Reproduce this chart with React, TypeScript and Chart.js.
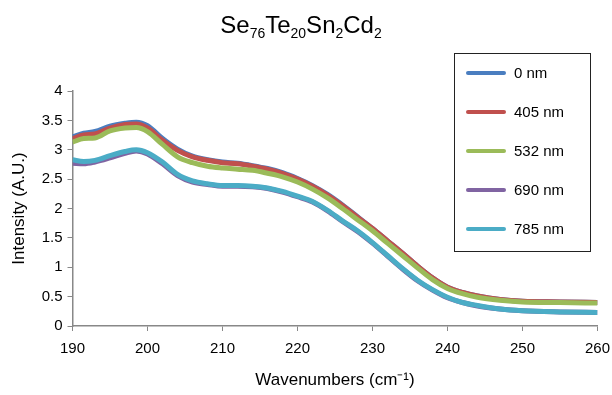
import React, { useEffect, useRef } from "react";
import { Chart, registerables } from "chart.js";

Chart.register(...registerables);

const WAVENUMBERS = [190, 191.5, 193, 195, 197, 198.5, 200, 202, 204, 206, 208, 210, 212, 214, 216, 218, 220, 222, 224, 226, 228, 230, 232, 234, 236, 238, 240, 242, 244, 247, 250, 255, 260];

const INT_0NM = [3.22, 3.28, 3.31, 3.40, 3.45, 3.47, 3.41, 3.19, 3.01, 2.89, 2.83, 2.79, 2.77, 2.73, 2.68, 2.61, 2.51, 2.39, 2.24, 2.06, 1.86, 1.66, 1.45, 1.24, 1.02, 0.82, 0.66, 0.57, 0.51, 0.45, 0.42, 0.41, 0.40];
const INT_405NM = [3.19, 3.25, 3.27, 3.37, 3.43, 3.44, 3.37, 3.16, 2.99, 2.88, 2.82, 2.78, 2.76, 2.72, 2.67, 2.60, 2.50, 2.38, 2.23, 2.05, 1.85, 1.66, 1.45, 1.24, 1.02, 0.82, 0.66, 0.57, 0.51, 0.45, 0.42, 0.41, 0.40];
const INT_532NM = [3.13, 3.19, 3.20, 3.32, 3.37, 3.38, 3.31, 3.09, 2.88, 2.78, 2.72, 2.69, 2.67, 2.65, 2.60, 2.54, 2.45, 2.33, 2.18, 2.00, 1.81, 1.62, 1.41, 1.20, 0.99, 0.79, 0.64, 0.55, 0.49, 0.44, 0.41, 0.40, 0.39];
const INT_690NM = [2.77, 2.76, 2.79, 2.86, 2.94, 2.98, 2.93, 2.76, 2.56, 2.45, 2.41, 2.38, 2.38, 2.37, 2.34, 2.28, 2.20, 2.11, 1.96, 1.78, 1.61, 1.41, 1.19, 0.97, 0.77, 0.61, 0.48, 0.40, 0.34, 0.29, 0.26, 0.24, 0.23];
const INT_785NM = [2.83, 2.80, 2.82, 2.90, 2.97, 3.00, 2.95, 2.79, 2.58, 2.47, 2.42, 2.39, 2.39, 2.38, 2.35, 2.29, 2.21, 2.12, 1.97, 1.79, 1.62, 1.42, 1.20, 0.98, 0.78, 0.62, 0.49, 0.40, 0.35, 0.29, 0.26, 0.24, 0.23];

const SERIES_LABELS = ["0 nm", "405 nm", "532 nm", "690 nm", "785 nm"];
const SERIES_VALUES = [INT_0NM, INT_405NM, INT_532NM, INT_690NM, INT_785NM];
const SERIES_COLORS = ["#4A7EC0", "#C0504D", "#9BBB59", "#8064A2", "#4BACC6"];

const TITLE_PARTS: [string, boolean][] = [["Se", false], ["76", true], ["Te", false], ["20", true], ["Sn", false], ["2", true], ["Cd", false], ["2", true]];
const X_TITLE = "Wavenumbers (cm\u207B\u00B9)";
const Y_TITLE = "Intensity (A.U.)";

const FONT = "'Liberation Sans', Arial, Helvetica, sans-serif";

const titlePlugin = {
  id: "subTitle",
  afterDraw(chart: any) {
    const ctx = chart.ctx;
    ctx.save();
    const mainF = `24px ${FONT}`;
    const subF = `14px ${FONT}`;
    let total = 0;
    for (const [t, sub] of TITLE_PARTS) {
      ctx.font = sub ? subF : mainF;
      total += ctx.measureText(t).width;
    }
    let x = 301 - total / 2;
    const base = 33;
    ctx.fillStyle = "#000";
    ctx.textBaseline = "alphabetic";
    ctx.textAlign = "left";
    for (const [t, sub] of TITLE_PARTS) {
      ctx.font = sub ? subF : mainF;
      ctx.fillText(t, x, sub ? base + 5 : base);
      x += ctx.measureText(t).width;
    }
    ctx.restore();
  },
};

const legendPlugin = {
  id: "boxLegend",
  afterDraw(chart: any) {
    const ctx = chart.ctx;
    ctx.save();
    const left = 454.5, top = 53.5, w = 136, h = 198;
    ctx.fillStyle = "#fff";
    ctx.fillRect(left, top, w, h);
    ctx.strokeStyle = "#222";
    ctx.lineWidth = 1;
    ctx.strokeRect(left, top, w, h);
    ctx.font = `15px ${FONT}`;
    ctx.textBaseline = "middle";
    ctx.textAlign = "left";
    chart.data.datasets.forEach((ds: any, i: number) => {
      const y = 73 + i * 39;
      ctx.strokeStyle = ds.borderColor;
      ctx.lineWidth = 4;
      ctx.lineCap = "round";
      ctx.beginPath();
      ctx.moveTo(468, y);
      ctx.lineTo(504, y);
      ctx.stroke();
      ctx.fillStyle = "#000";
      ctx.fillText(ds.label, 514, y + 1);
    });
    ctx.restore();
  },
};

export default function App() {
  const ref = useRef<HTMLCanvasElement | null>(null);
  useEffect(() => {
    if (!ref.current) return;
    const datasets = SERIES_LABELS.map((label, i) => ({
      label,
      data: WAVENUMBERS.map((x, j) => ({ x, y: SERIES_VALUES[i][j] })),
      borderColor: SERIES_COLORS[i],
      backgroundColor: SERIES_COLORS[i],
      borderWidth: 5,
      pointRadius: 0,
      cubicInterpolationMode: "monotone" as const,
      order: 5 - i,
      fill: false,
    }));
    const chart = new Chart(ref.current, {
      type: "line",
      data: { datasets },
      options: {
        animation: false,
        responsive: false,
        devicePixelRatio: 1,
        layout: { padding: { top: 91, right: 14.5, left: 0, bottom: 0 } },
        plugins: {
          legend: { display: false },
          title: { display: false },
          tooltip: { enabled: false },
        },
        scales: {
          x: {
            type: "linear",
            min: 190,
            max: 260,
            afterFit: (s: any) => { s.height = 69; s.paddingRight = 0; s.paddingLeft = 0; },
            ticks: { stepSize: 10, color: "#000", font: { family: FONT, size: 15 }, padding: 9, maxRotation: 0 },
            grid: { drawOnChartArea: false, drawTicks: true, tickLength: 5, color: "#888", lineWidth: 1 },
            border: { display: true, color: "#888", width: 1.5 },
            title: { display: true, text: X_TITLE, color: "#000", font: { family: FONT, size: 17 }, padding: { top: 8 } },
          },
          y: {
            type: "linear",
            min: 0,
            max: 4,
            afterFit: (s: any) => { s.width = 72.5; },
            ticks: { stepSize: 0.5, color: "#000", font: { family: FONT, size: 15 }, padding: 5, callback: (v: any) => String(v) },
            grid: { drawOnChartArea: false, drawTicks: true, tickLength: 5, color: "#888", lineWidth: 1 },
            border: { display: true, color: "#888", width: 1.5 },
            title: { display: true, text: Y_TITLE, color: "#000", font: { family: FONT, size: 17 }, padding: { top: 9, bottom: 4 } },
          },
        },
      },
      plugins: [titlePlugin, legendPlugin],
    });
    return () => chart.destroy();
  }, []);
  return (
    <div style={{ position: "absolute", left: 0, top: 0, width: 612, height: 395, background: "#fff" }}>
      <canvas ref={ref} width={612} height={395} style={{ display: "block" }} />
    </div>
  );
}
